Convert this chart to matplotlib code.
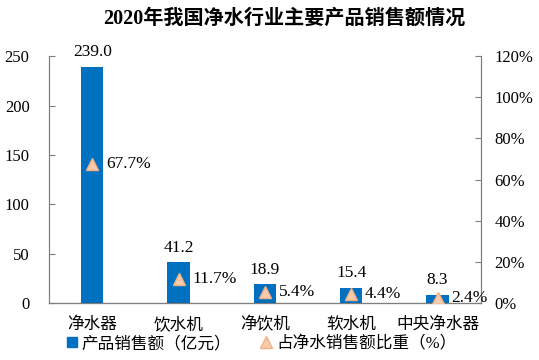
import matplotlib.pyplot as plt
from matplotlib.ticker import FuncFormatter
from matplotlib.lines import Line2D

plt.rcParams['font.family'] = ['Liberation Serif', 'Noto Sans CJK SC']

categories = ['净水器', '饮水机', '净饮机', '软水机', '中央净水器']
sales = [239.0, 41.2, 18.9, 15.4, 8.3]
share = [67.7, 11.7, 5.4, 4.4, 2.4]

fig = plt.figure(figsize=(5.39, 3.6), dpi=100)
ax1 = fig.add_axes([0.091, 0.158, 0.801, 0.686])
ax2 = ax1.twinx()

x = list(range(len(categories)))
ax1.bar(x, sales, width=0.26, color='#0070C0', zorder=2)
for xi, v in zip(x, sales):
    ax1.text(xi, v + 7, f'{v:.1f}', ha='center', va='bottom', fontsize=12.5)

ax2.plot(x, share, linestyle='none', marker='^', markersize=8,
         markerfacecolor='#F8CBAD', markeredgecolor='#F4B183', zorder=3)
for xi, v in zip(x, share):
    ax2.text(xi + 0.16, v, f'{v}%', ha='left', va='center', fontsize=12.5)

ax1.set_xlim(-0.5, 4.5)
ax1.set_ylim(0, 250)
ax1.set_yticks(range(0, 251, 50))
ax2.set_ylim(0, 120)
ax2.set_yticks(range(0, 121, 20))
ax2.yaxis.set_major_formatter(FuncFormatter(lambda v, p: f'{v:.0f}%'))

ax1.set_xticks(x)
ax1.set_xticklabels(categories, fontsize=12)
ax1.tick_params(axis='x', length=0, pad=10)
ax1.tick_params(axis='y', direction='in', length=4, labelsize=12, pad=14, color='#7f7f7f')
ax2.tick_params(axis='y', direction='in', length=4, labelsize=12, pad=10, color='#7f7f7f')

for a in (ax1, ax2):
    a.spines['top'].set_visible(False)
    for s in ('left', 'right', 'bottom'):
        a.spines[s].set_color('#7f7f7f')
ax1.spines['bottom'].set_color('black')

fig.suptitle('2020年我国净水行业主要产品销售额情况', fontsize=14.5, fontweight='bold',
             x=0.527, y=0.975)

handles = [
    Line2D([], [], linestyle='none', marker='s', markersize=7, color='#0070C0'),
    Line2D([], [], linestyle='none', marker='^', markersize=9,
           markerfacecolor='#F8CBAD', markeredgecolor='#F4B183'),
]
fig.legend(handles, ['产品销售额（亿元）', '占净水销售额比重（%）'], ncol=2,
           loc='lower left', bbox_to_anchor=(0.09, -0.02), frameon=False,
           fontsize=12, handletextpad=0.1, columnspacing=1.6, handlelength=1)

plt.savefig('out.png', dpi=100)
